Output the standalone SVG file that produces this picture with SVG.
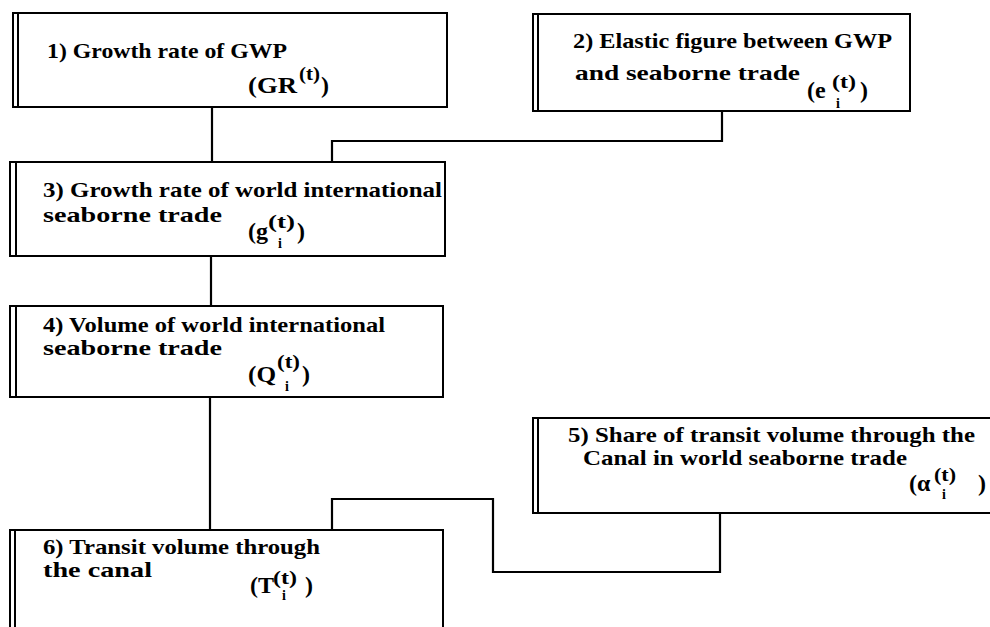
<svg xmlns="http://www.w3.org/2000/svg" width="990" height="627" viewBox="0 0 990 627">
<style>
.t { font-family: "Liberation Serif", "Times New Roman", serif; font-size: 22px; font-weight: bold; fill: #000; }
.f { font-family: "Liberation Serif", "Times New Roman", serif; font-size: 24px; font-weight: bold; fill: #000; }
.s { font-family: "Liberation Serif", "Times New Roman", serif; font-size: 18px; font-weight: bold; fill: #000; }
.u { font-family: "Liberation Serif", "Times New Roman", serif; font-size: 14px; font-weight: bold; fill: #000; }
.box { fill: none; stroke: #000; stroke-width: 2; }
.dbl { fill: none; stroke: #000; stroke-width: 2; }
.conn { fill: none; stroke: #000; stroke-width: 2.2; }
</style>
<rect width="990" height="627" fill="#fff"/>

<g id="node1">
  <rect class="box" x="13" y="13" width="434" height="94"/>
  <line class="dbl" x1="18" y1="13" x2="18" y2="107"/>
  <text class="t" x="47" y="58" textLength="240" lengthAdjust="spacingAndGlyphs">1) Growth rate of GWP</text>
  <text class="f" x="248" y="93" textLength="49" lengthAdjust="spacingAndGlyphs">(GR</text>
  <text class="s" x="299" y="80" textLength="21" lengthAdjust="spacingAndGlyphs">(t)</text>
  <text class="f" x="321" y="93">)</text>
</g>

<g id="node2">
  <rect class="box" x="533" y="14" width="377" height="97"/>
  <line class="dbl" x1="538" y1="14" x2="538" y2="111"/>
  <text class="t" x="573" y="48" textLength="319" lengthAdjust="spacingAndGlyphs">2) Elastic figure between GWP</text>
  <text class="t" x="575" y="80" textLength="225" lengthAdjust="spacingAndGlyphs">and seaborne trade</text>
  <text class="f" x="807" y="98">(e</text>
  <text class="s" x="832" y="88" textLength="24" lengthAdjust="spacingAndGlyphs">(t)</text>
  <text class="u" x="836" y="108">i</text>
  <text class="f" x="860" y="98">)</text>
</g>

<g id="node3">
  <rect class="box" x="10" y="162" width="435" height="94"/>
  <line class="dbl" x1="16" y1="162" x2="16" y2="256"/>
  <text class="t" x="43" y="197" textLength="399" lengthAdjust="spacingAndGlyphs">3) Growth rate of world international</text>
  <text class="t" x="43" y="222" textLength="179" lengthAdjust="spacingAndGlyphs">seaborne trade</text>
  <text class="f" x="248" y="239">(g</text>
  <text class="s" x="268" y="228" textLength="27" lengthAdjust="spacingAndGlyphs">(t)</text>
  <text class="u" x="278" y="248">i</text>
  <text class="f" x="297" y="239">)</text>
</g>

<g id="node4">
  <rect class="box" x="10" y="306" width="433" height="91"/>
  <line class="dbl" x1="16" y1="306" x2="16" y2="397"/>
  <text class="t" x="43" y="332" textLength="342" lengthAdjust="spacingAndGlyphs">4) Volume of world international</text>
  <text class="t" x="43" y="355" textLength="179" lengthAdjust="spacingAndGlyphs">seaborne trade</text>
  <text class="f" x="248" y="382" textLength="28" lengthAdjust="spacingAndGlyphs">(Q</text>
  <text class="s" x="277" y="368" textLength="23" lengthAdjust="spacingAndGlyphs">(t)</text>
  <text class="u" x="285" y="391">i</text>
  <text class="f" x="302" y="382">)</text>
</g>

<g id="node5">
  <rect class="box" x="533" y="418" width="470" height="95"/>
  <line class="dbl" x1="538" y1="418" x2="538" y2="513"/>
  <text class="t" x="568" y="442" textLength="407" lengthAdjust="spacingAndGlyphs">5) Share of transit volume through the</text>
  <text class="t" x="583" y="465" textLength="324" lengthAdjust="spacingAndGlyphs">Canal in world seaborne trade</text>
  <text class="f" x="909" y="491">(α</text>
  <text class="s" x="934" y="481" textLength="22" lengthAdjust="spacingAndGlyphs">(t)</text>
  <text class="u" x="942" y="499">i</text>
  <text class="f" x="978" y="491">)</text>
</g>

<g id="node6">
  <rect class="box" x="10" y="530" width="433" height="110"/>
  <line class="dbl" x1="15" y1="530" x2="15" y2="640"/>
  <text class="t" x="43" y="554" textLength="277" lengthAdjust="spacingAndGlyphs">6) Transit volume through</text>
  <text class="t" x="43" y="577" textLength="109" lengthAdjust="spacingAndGlyphs">the canal</text>
  <text class="f" x="250" y="593">(T</text>
  <text class="s" x="273" y="584" textLength="24" lengthAdjust="spacingAndGlyphs">(t)</text>
  <text class="u" x="282" y="600">i</text>
  <text class="f" x="305" y="593">)</text>
</g>

<g id="connectors">
  <path class="conn" d="M212,107 V162"/>
  <path class="conn" d="M722,111 V141 H332 V162"/>
  <path class="conn" d="M211,256 V306"/>
  <path class="conn" d="M210,397 V530"/>
  <path class="conn" d="M720,513 V572 H493 V499 H332 V530"/>
</g>
</svg>
